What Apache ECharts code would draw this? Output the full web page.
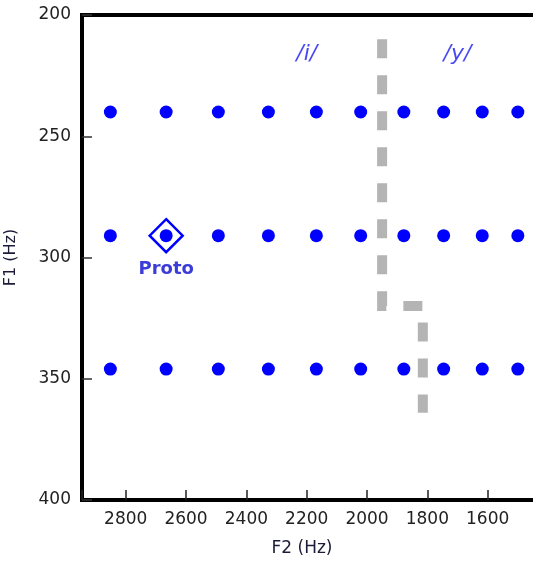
<!DOCTYPE html>
<html>
<head>
<meta charset="utf-8">
<script src="https://cdn.jsdelivr.net/npm/echarts@6/dist/echarts.min.js"></script>
<style>
  html, body { margin: 0; padding: 0; background: #fff; }
  #main { width: 533px; height: 561px; }
</style>
</head>
<body>
<div id="main"></div>
<script>
// F2 / F1 grid of stimuli (Hz)
var f2Values = [2851, 2666, 2493, 2327, 2168, 2021, 1878, 1746, 1618, 1500]
var f1Values = [240, 291, 346]

// prototype stimulus
var protoPoint = [2666, 291]

// category boundary between /i/ and /y/
var boundaryF2 = [1950, 1950, 1815, 1815]
var boundaryF1 = [210, 320, 320, 364]

// vowel labels
var vowelNames = ['/i/', '/y/']
var vowelF2 = [2200, 1700]
var vowelF1 = [216, 216]

var font = 'DejaVu Sans'
var chart = echarts.init(document.getElementById('main'), null, { renderer: 'canvas' })

var gridPts = []
f1Values.forEach(function (f1) {
    f2Values.forEach(function (f2) {
        gridPts.push([f2, f1])
    })
})

var boundary = boundaryF2.map(function (f2, i) { return [f2, boundaryF1[i]] })
var vowels = vowelNames.map(function (n, i) { return { name: n, value: [vowelF2[i], vowelF1[i]] } })

chart.setOption({
    animation: false,
    grid: {
        left: 82, top: 15, width: 466, height: 485,
        outerBoundsMode: 'none',
        containLabel: false,
        show: true, borderColor: '#000', borderWidth: 4, backgroundColor: 'transparent'
    },
    xAxis: {
        type: 'value',
        min: 1400, max: 2945, interval: 200,
        inverse: true,
        name: 'F2 (Hz)',
        nameLocation: 'middle',
        nameGap: 40,
        nameTextStyle: { fontFamily: font, fontSize: 17, color: '#1c1c38', padding: [0, 26, 0, 0] },
        axisLine: { lineStyle: { color: '#000', width: 4 } },
        axisTick: { inside: true, length: 10, lineStyle: { color: '#222', width: 1.5 } },
        axisLabel: {
            fontFamily: font, fontSize: 17, color: '#222', margin: 11,
            formatter: function (v) { return (v % 200 === 0 && v > 1400) ? v : '' }
        },
        splitLine: { show: false }
    },
    yAxis: {
        type: 'value',
        min: 200, max: 400, interval: 50,
        inverse: true,
        name: 'F1 (Hz)',
        nameLocation: 'middle',
        nameGap: 63,
        nameRotate: 90,
        nameTextStyle: { fontFamily: font, fontSize: 16, color: '#1c1c38' },
        axisLine: { lineStyle: { color: '#000', width: 4 } },
        axisTick: { inside: true, length: 10, lineStyle: { color: '#333', width: 1.5 } },
        axisLabel: { fontFamily: font, fontSize: 17, color: '#222', margin: 11 },
        splitLine: { show: false }
    },
    series: [
        {
            type: 'line',
            data: boundary,
            symbol: 'none',
            lineStyle: { color: '#b4b4b4', width: 10, type: [19, 17], cap: 'butt', join: 'miter' },
            z: 1
        },
        {
            type: 'scatter',
            data: gridPts,
            symbol: 'circle',
            symbolSize: 13,
            itemStyle: { color: '#0000ff', opacity: 1 },
            z: 3
        },
        {
            type: 'scatter',
            data: [protoPoint],
            symbol: 'diamond',
            symbolSize: 33,
            itemStyle: { color: 'rgba(0,0,0,0)', borderColor: '#0000ff', borderWidth: 2.5, opacity: 1 },
            label: {
                show: true, position: 'bottom', distance: 7,
                formatter: 'Proto',
                fontFamily: font, fontSize: 18, fontWeight: 'bold', color: '#3c3cd8'
            },
            z: 4
        },
        {
            type: 'scatter',
            data: vowels,
            symbol: 'circle',
            symbolSize: 1,
            itemStyle: { color: 'rgba(0,0,0,0)' },
            label: {
                show: true, position: 'inside',
                formatter: '{b}',
                fontFamily: font, fontSize: 22, fontStyle: 'italic', color: '#1a1af0'
            },
            z: 4
        }
    ]
})
</script>
</body>
</html>
